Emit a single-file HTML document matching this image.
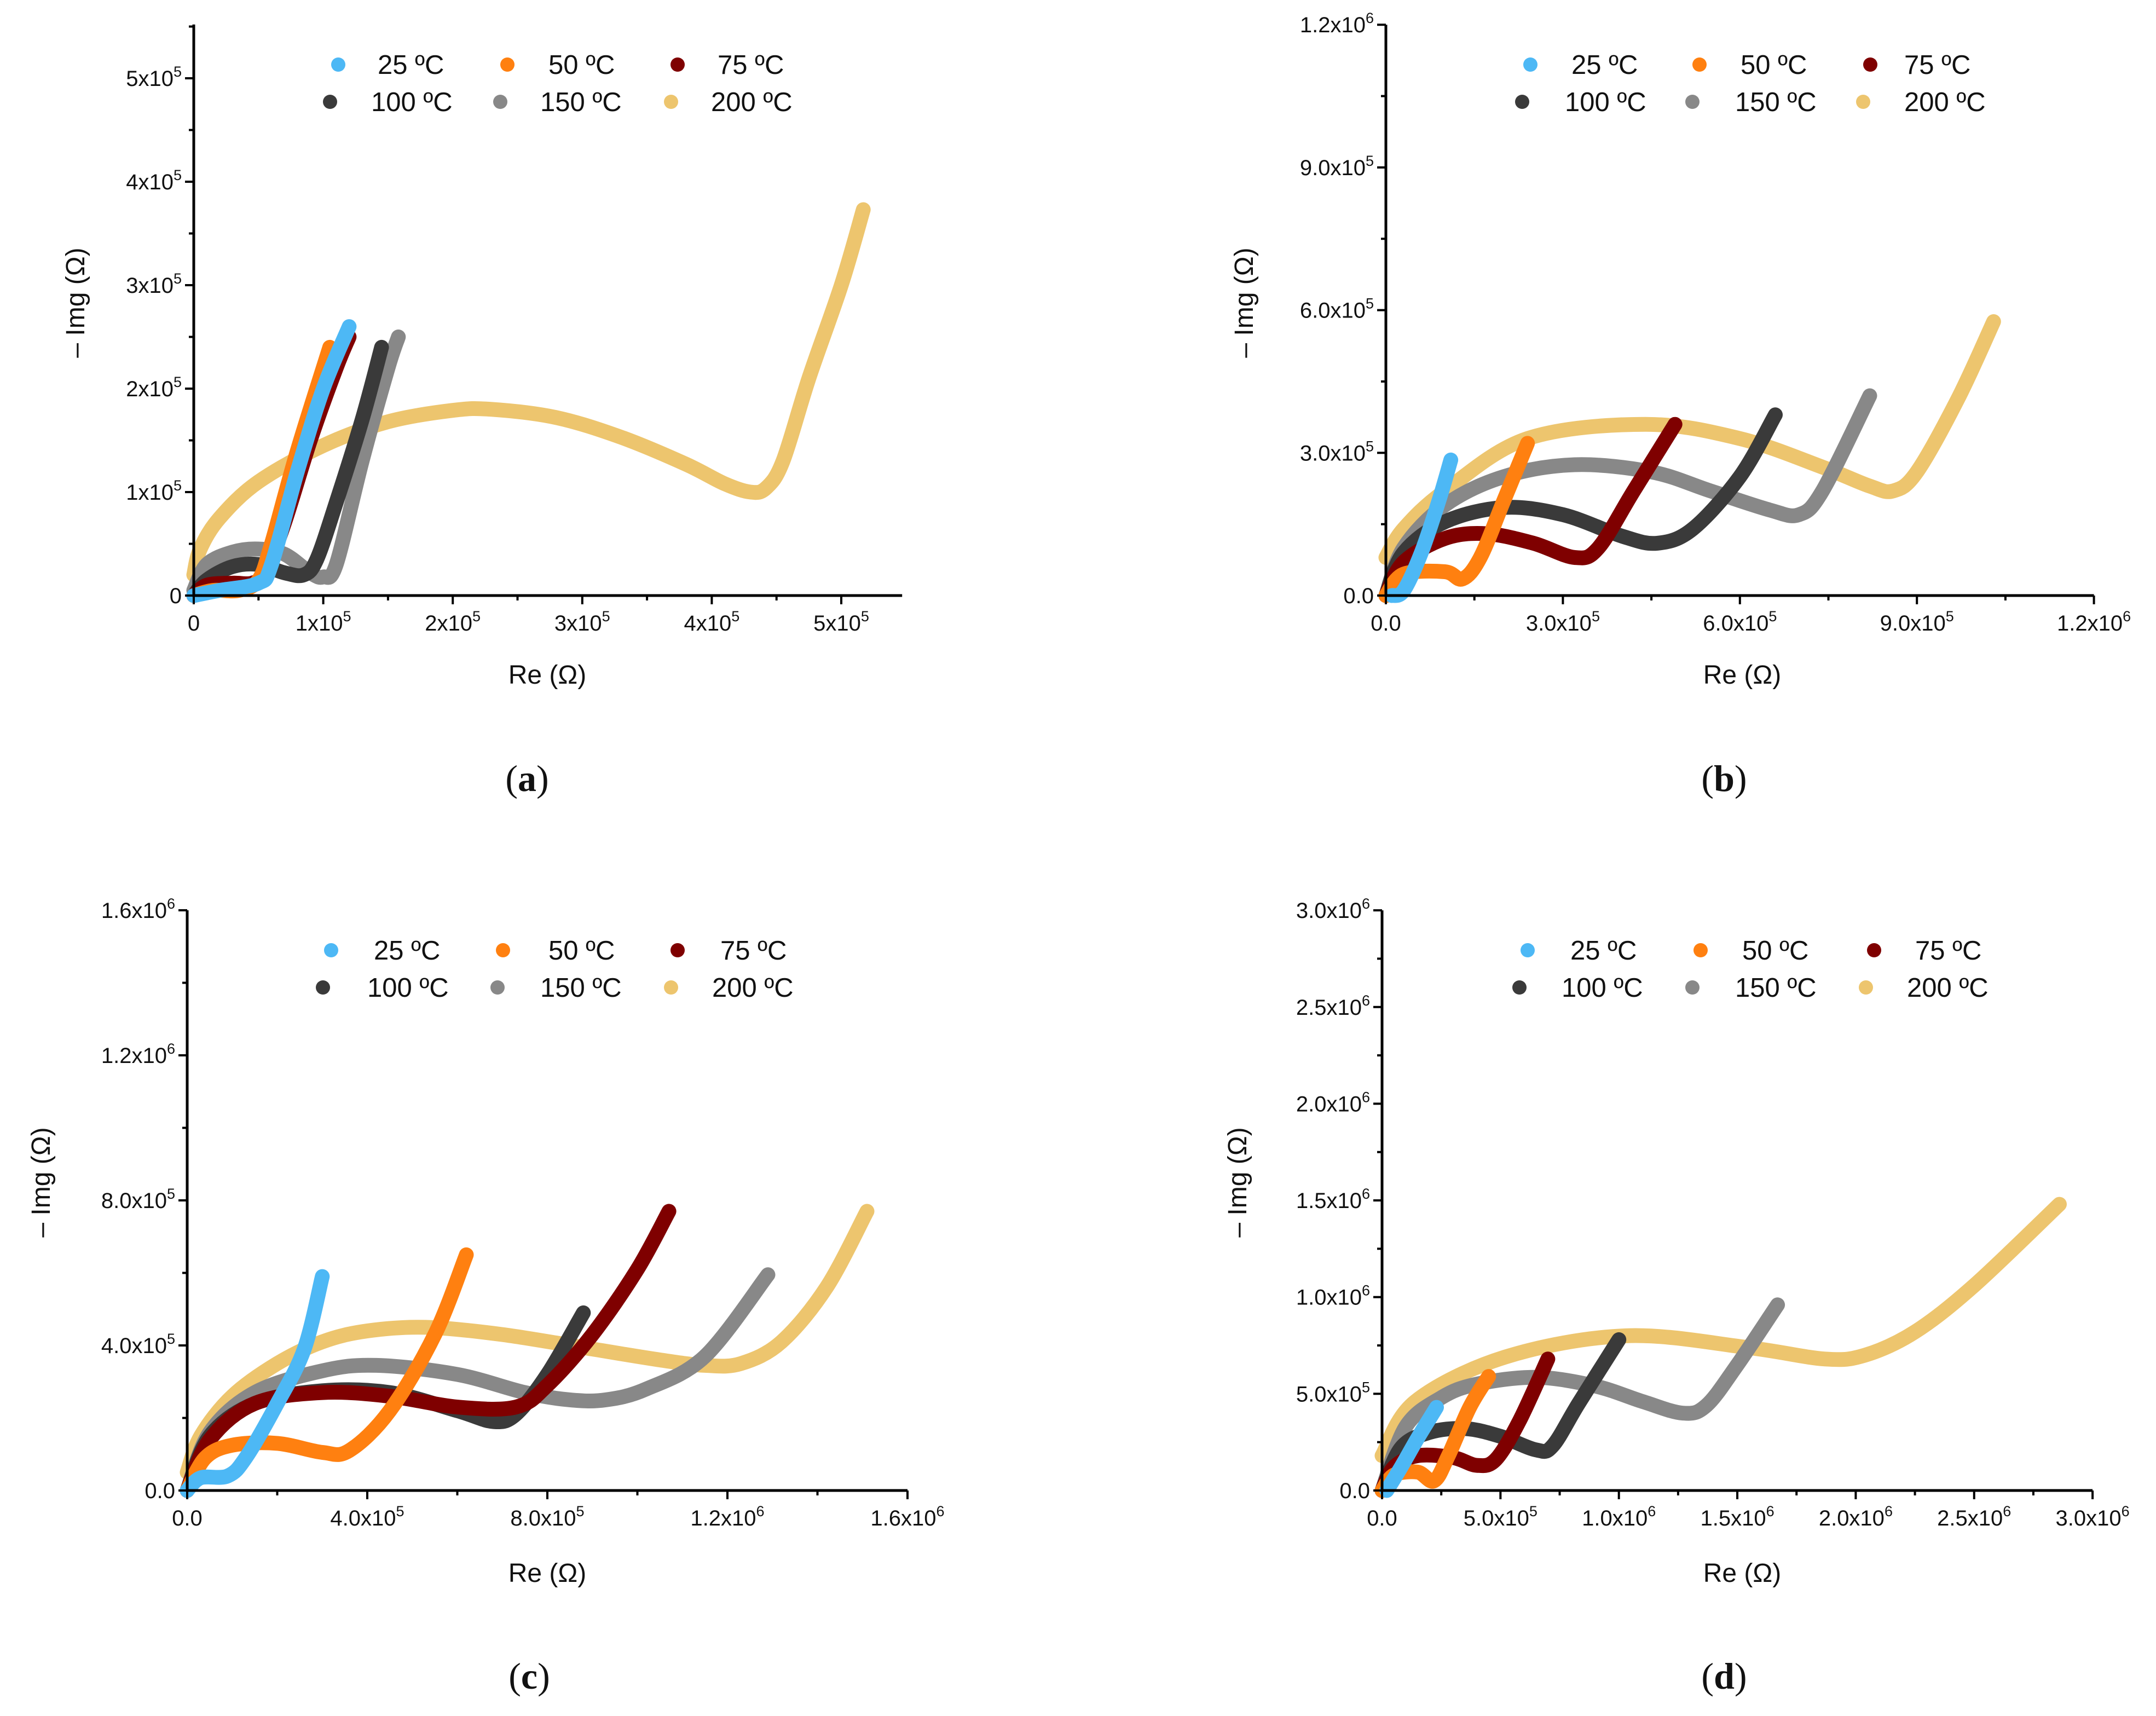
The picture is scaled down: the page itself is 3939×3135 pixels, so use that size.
<!DOCTYPE html>
<html><head><meta charset="utf-8"><style>
html,body{margin:0;padding:0;background:#fff;}
svg{display:block;}
text{font-family:"Liberation Sans",Arial,sans-serif;fill:#111;}
.cap{font-family:"Liberation Serif",serif;}
</style></head><body>
<svg id="fig" width="3939" height="3135" viewBox="0 0 3939 3135" xmlns="http://www.w3.org/2000/svg">
<rect width="3939" height="3135" fill="#fff"/>
</svg>
<script>
// Series names and colours
const seriesNames = ["25 ºC","50 ºC","75 ºC","100 ºC","150 ºC","200 ºC"];
const seriesColors = ["#4db8f5","#ff8010","#7f0000","#3a3a3a","#888888","#edc56e"];
// Panel (a) data, units of 1e5 Ohm: [Re, -Img]
const a25 = [[0,0],[0.2,0.05],[0.5,0.12],[0.6,0.3],[0.8,1.2],[1.0,2.0],[1.2,2.6]];
const a50 = [[0,0],[0.15,0.05],[0.35,0.05],[0.5,0.15],[0.6,0.5],[0.8,1.4],[1.05,2.4]];
const a75 = [[0,0],[0.1,0.1],[0.3,0.12],[0.45,0.12],[0.55,0.22],[0.7,0.7],[0.9,1.5],[1.1,2.2],[1.2,2.5]];
const a100 = [[0,0],[0.1,0.15],[0.3,0.28],[0.5,0.3],[0.7,0.22],[0.85,0.2],[0.95,0.35],[1.1,0.9],[1.3,1.7],[1.45,2.4]];
const a150 = [[0,0.05],[0.1,0.3],[0.3,0.42],[0.5,0.45],[0.7,0.4],[0.9,0.22],[1.0,0.18],[1.1,0.3],[1.3,1.3],[1.5,2.2],[1.58,2.5]];
const a200 = [[0,0.2],[0.05,0.45],[0.2,0.75],[0.5,1.1],[1,1.45],[1.5,1.68],[2,1.79],[2.3,1.8],[2.8,1.72],[3.3,1.53],[3.8,1.27],[4.1,1.08],[4.3,1.0],[4.42,1.04],[4.55,1.3],[4.75,2.1],[5.0,3.0],[5.17,3.73]];
// Panel (b)
const b25 = [[0.1,0],[0.3,0.1],[0.6,0.9],[0.9,2.0],[1.1,2.85]];
const b50 = [[0,0],[0.3,0.45],[1,0.5],[1.3,0.35],[1.6,0.8],[2,2.0],[2.4,3.2]];
const b75 = [[0,0],[0.3,0.7],[1,1.2],[1.7,1.3],[2.5,1.1],[3.2,0.8],[3.6,1.0],[4.2,2.2],[4.9,3.6]];
const b100 = [[0,0],[0.3,0.9],[1,1.55],[2,1.85],[3,1.7],[4,1.25],[4.6,1.1],[5.2,1.4],[6,2.5],[6.6,3.8]];
const b150 = [[0,0],[0.3,1.0],[1,1.9],[2,2.5],[3.2,2.75],[4.5,2.6],[5.5,2.2],[6.5,1.8],[7,1.7],[7.4,2.2],[8.2,4.2]];
const b200 = [[0,0.8],[0.3,1.4],[1.0,2.2],[2.4,3.3],[4.4,3.6],[6.0,3.3],[7.4,2.7],[8.2,2.3],[8.6,2.2],[9.0,2.6],[9.7,4.15],[10.3,5.76]];
// Panel (c)
const c25 = [[0,0],[0.3,0.35],[0.9,0.4],[1.3,0.9],[2,2.4],[2.6,3.9],[3,5.9]];
const c50 = [[0,0],[0.4,0.9],[1,1.25],[2,1.3],[3,1.05],[3.6,1.1],[4.5,2.2],[5.5,4.3],[6.2,6.5]];
const c75 = [[0,0],[0.5,1.4],[1.5,2.4],[3,2.7],[4.5,2.6],[6,2.3],[7.3,2.3],[8,2.9],[9,4.3],[10,6.1],[10.7,7.7]];
const c100 = [[0,0],[0.5,1.5],[1.5,2.4],[3,2.75],[4.5,2.7],[6,2.2],[6.8,1.9],[7.3,2.1],[8,3.2],[8.8,4.9]];
const c150 = [[0,0],[0.5,1.6],[1.5,2.7],[3,3.3],[4.2,3.45],[6,3.2],[7.5,2.7],[8.5,2.5],[9.3,2.5],[10.2,2.8],[11.5,3.7],[12.9,5.95]];
const c200 = [[0,0.5],[0.3,1.5],[1,2.6],[2,3.5],[3,4.1],[4,4.4],[5.3,4.5],[7,4.3],[9,3.9],[10.5,3.6],[11.5,3.45],[12.3,3.5],[13.2,4.1],[14.2,5.6],[15.1,7.7]];
// Panel (d)
const d25 = [[0.2,0],[0.8,1.2],[1.5,2.7],[2.3,4.3]];
const d50 = [[0,0],[0.5,0.8],[1.5,0.95],[2.2,0.5],[2.8,1.8],[3.7,4.3],[4.5,5.9]];
const d75 = [[0,0],[0.5,1.2],[1.5,1.8],[3,1.7],[4,1.3],[4.8,1.6],[5.8,3.6],[7,6.8]];
const d100 = [[0,0],[0.8,2.2],[2,3.0],[3.5,3.2],[5,2.8],[6.5,2.1],[7.2,2.3],[8.3,4.5],[10,7.8]];
const d150 = [[0,0],[1,3.3],[2.5,4.8],[4,5.5],[6.5,5.85],[9,5.4],[11,4.6],[12.7,4.0],[13.7,4.4],[15,6.5],[16.7,9.6]];
const d200 = [[0,1.8],[1.4,4.6],[5.2,6.9],[10.3,8.0],[15.4,7.4],[18.7,6.8],[20.4,7.0],[22.5,8.2],[25,10.6],[28.6,14.8]];
// Tick values (units 1e5) and labels
const aTicks = [0,1,2,3,4,5];
const aTickLabels = [["0",""],["1x10","5"],["2x10","5"],["3x10","5"],["4x10","5"],["5x10","5"]];
const bTicks = [0,3,6,9,12];
const bTickLabels = [["0.0",""],["3.0x10","5"],["6.0x10","5"],["9.0x10","5"],["1.2x10","6"]];
const cTicks = [0,4,8,12,16];
const cTickLabels = [["0.0",""],["4.0x10","5"],["8.0x10","5"],["1.2x10","6"],["1.6x10","6"]];
const dTicks = [0,5,10,15,20,25,30];
const dTickLabels = [["0.0",""],["5.0x10","5"],["1.0x10","6"],["1.5x10","6"],["2.0x10","6"],["2.5x10","6"],["3.0x10","6"]];

const NS = "http://www.w3.org/2000/svg";
const svg = document.getElementById('fig');
function mk(tag, attrs, parent){ const e=document.createElementNS(NS,tag); for(const k in attrs) e.setAttribute(k,attrs[k]); (parent||svg).appendChild(e); return e; }

const panels = [
 {id:'a', data:[a25,a50,a75,a100,a150,a200], ticks:aTicks, labels:aTickLabels, minor:0.5,
  x0:354, y0:1088, xmax:5.47, ymax:5.52, pxX:236.6, pxY:189,
  legX:[[618,927,1238],[603,914,1226]], legT:[[690,1002,1311],[678,987,1299]], legY:[118,186],
  yt:[138,553], xt:[1000,1233], cap:[963,1445]},
 {id:'b', data:[b25,b50,b75,b100,b150,b200], ticks:bTicks, labels:bTickLabels, minor:1.5,
  x0:2532, y0:1088, xmax:12, ymax:12, pxX:107.8, pxY:86.9,
  legX:[[2796,3105,3417],[2781,3092,3404]], legT:[[2871,3180,3479],[2859,3170,3479]], legY:[118,186],
  yt:[2273,553], xt:[3183,1233], cap:[3150,1445]},
 {id:'c', data:[c25,c50,c75,c100,c150,c200], ticks:cTicks, labels:cTickLabels, minor:2,
  x0:342, y0:2723, xmax:16, ymax:16, pxX:82.25, pxY:66.25,
  legX:[[605,919,1238],[590,909,1226]], legT:[[683,1002,1316],[671,987,1301]], legY:[1736,1804],
  yt:[75,2160], xt:[1000,2874], cap:[967,3085]},
 {id:'d', data:[d25,d50,d75,d100,d150,d200], ticks:dTicks, labels:dTickLabels, minor:2.5,
  x0:2525, y0:2723, xmax:30, ymax:30, pxX:43.27, pxY:35.33,
  legX:[[2791,3107,3424],[2776,3092,3409]], legT:[[2869,3183,3499],[2853,3170,3484]], legY:[1736,1804],
  yt:[2261,2160], xt:[3183,2874], cap:[3150,3085]}
];

function smoothPath(pts){
  if(pts.length<2) return '';
  let d='M'+pts[0][0].toFixed(1)+' '+pts[0][1].toFixed(1);
  for(let i=0;i<pts.length-1;i++){
    const p0=pts[i-1]||pts[i], p1=pts[i], p2=pts[i+1], p3=pts[i+2]||p2;
    const c1=[p1[0]+(p2[0]-p0[0])/6, p1[1]+(p2[1]-p0[1])/6];
    const c2=[p2[0]-(p3[0]-p1[0])/6, p2[1]-(p3[1]-p1[1])/6];
    d+=' C'+c1[0].toFixed(1)+' '+c1[1].toFixed(1)+' '+c2[0].toFixed(1)+' '+c2[1].toFixed(1)+' '+p2[0].toFixed(1)+' '+p2[1].toFixed(1);
  }
  return d;
}

panels.forEach(P=>{
  const g = mk('g',{});
  
  
  const xs = v=>P.x0+v*P.pxX, ys = v=>P.y0-v*P.pxY;
  const xEnd = xs(P.xmax), yTop = ys(P.ymax);
  const sg = mk('g',{},g);
  
  
  for(let s=5;s>=0;s--){
    const pts = P.data[s].map(p=>[xs(p[0]),ys(p[1])]);
    const path = mk('path',{d:smoothPath(pts),fill:'none',stroke:seriesColors[s],'stroke-width':27,'stroke-linecap':'round','stroke-linejoin':'round'},sg);
    
    
  }
  const ax = mk('path',{d:`M${P.x0} ${yTop} V${P.y0} H${xEnd}`,fill:'none',stroke:'#000','stroke-width':5},g);
  
  
  for(let v=0; v<=P.xmax+1e-6; v+=P.minor){
    const major = Math.abs(v/ (P.ticks[1]) - Math.round(v/P.ticks[1]))<1e-6;
    mk('line',{x1:xs(v),x2:xs(v),y1:P.y0,y2:P.y0+(major?16:9),stroke:'#000','stroke-width':4},g);
  }
  for(let v=0; v<=P.ymax+1e-6; v+=P.minor){
    const major = Math.abs(v/ (P.ticks[1]) - Math.round(v/P.ticks[1]))<1e-6;
    mk('line',{x1:P.x0,x2:P.x0-(major?16:9),y1:ys(v),y2:ys(v),stroke:'#000','stroke-width':4},g);
  }
  P.ticks.forEach((v,i)=>{
    const [base,exp]=P.labels[i];
    const tx = mk('text',{x:xs(v),y:P.y0+64,'font-size':40,'text-anchor':'middle'},g);
    
    
    tx.textContent=base;
    if(exp){ const t=mk('tspan',{dy:-17,'font-size':27},tx); t.textContent=exp; }
    const ty = mk('text',{x:P.x0-22,y:ys(v)+14,'font-size':40,'text-anchor':'end'},g);
    
    
    ty.textContent=base;
    if(exp){ const t=mk('tspan',{dy:-17,'font-size':27},ty); t.textContent=exp; }
  });
  const yt = mk('text',{x:P.yt[0],y:P.yt[1],'font-size':48,'text-anchor':'middle',transform:`rotate(-90 ${P.yt[0]} ${P.yt[1]})`,dy:16},g);
  
  
  yt.textContent='– Img (Ω)';
  const xt = mk('text',{x:P.xt[0],y:P.xt[1]+16,'font-size':48,'text-anchor':'middle'},g);
  
  
  xt.textContent='Re (Ω)';
  const lg = mk('g',{},g);
  
  
  for(let s=0;s<6;s++){
    const r=Math.floor(s/3), c=s%3;
    const e = mk('g',{},lg);
    
    
    mk('circle',{cx:P.legX[r][c],cy:P.legY[r],r:13,fill:seriesColors[s]},e);
    const t = mk('text',{x:P.legT[r][c],y:P.legY[r]+17,'font-size':49},e);
    t.textContent=seriesNames[s];
  }
  const cap = mk('text',{x:P.cap[0],y:P.cap[1],'font-size':68,'text-anchor':'middle',class:'cap'},g);
  
  
  const t1=mk('tspan',{},cap); t1.textContent='(';
  const t2=mk('tspan',{'font-weight':'bold'},cap); t2.textContent=P.id;
  const t3=mk('tspan',{},cap); t3.textContent=')';
});
</script>
</body></html>
